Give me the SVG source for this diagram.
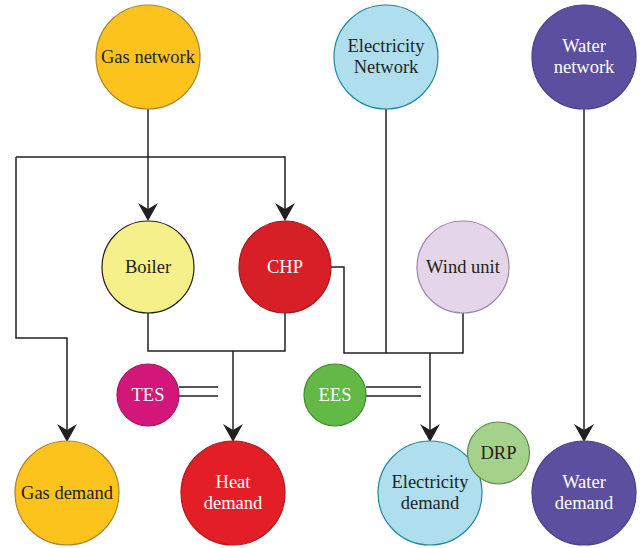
<svg xmlns="http://www.w3.org/2000/svg" width="641" height="548" viewBox="0 0 641 548">
<defs>
<style>
text{font-family:"Liberation Serif","DejaVu Serif",serif;font-size:18.5px;text-anchor:middle;fill:#231F20}
.w{fill:#ffffff}
.c{stroke-width:1.2}
.ln{fill:none;stroke:#231F20;stroke-width:1.5}
</style>
</defs>
<rect width="641" height="548" fill="#ffffff"/>
<g id="connectors" class="ln">
<path d="M148,109 V219"/>
<path d="M16,157 H285 V219"/>
<path d="M16,157 V338 H67 V440"/>
<path d="M148,313 V351 H285 V313"/>
<path d="M233,351 V440"/>
<path d="M331,267 H344 V353 H463 V313"/>
<path d="M386,109 V353"/>
<path d="M430,353 V440"/>
<path d="M584,109 V440"/>
<path d="M179,387 H218 M179,396 H218"/>
<path d="M366,387 H421 M366,396 H421"/>
</g>
<g id="arrowheads" fill="#231F20">
<path d="M148,221 L138,203 L148,209 L158,203 Z"/>
<path d="M285,221 L275,203 L285,209 L295,203 Z"/>
<path d="M67,442 L57,424 L67,430 L77,424 Z"/>
<path d="M233,442 L223,424 L233,430 L243,424 Z"/>
<path d="M430,442 L420,424 L430,430 L440,424 Z"/>
<path d="M584,442 L574,424 L584,430 L594,424 Z"/>
</g>
<g id="gas-network"><circle class="c" cx="148" cy="57" r="52" fill="#FCC31D" stroke="#A98532"/><text x="148" y="63">Gas network</text></g>
<g id="electricity-network"><circle class="c" cx="386" cy="57" r="52" fill="#AFDFEF" stroke="#1D8A9B"/><text x="386" y="52">Electricity</text><text x="386" y="73">Network</text></g>
<g id="water-network"><circle class="c" cx="584" cy="57" r="52" fill="#5C4F9F" stroke="#4A3F88"/><text class="w" x="584" y="52">Water</text><text class="w" x="584" y="73">network</text></g>
<g id="boiler"><circle class="c" cx="148" cy="267" r="46" fill="#F5F08A" stroke="#231F20"/><text x="148" y="273">Boiler</text></g>
<g id="chp"><circle class="c" cx="285" cy="267" r="46" fill="#D71F27" stroke="#A3181E"/><text class="w" x="285" y="273">CHP</text></g>
<g id="wind-unit"><circle class="c" cx="463" cy="267" r="46" fill="#E4D5E9" stroke="#9C86AE"/><text x="463" y="273">Wind unit</text></g>
<g id="tes"><circle class="c" cx="148" cy="395" r="31" fill="#D31679" stroke="#B0135F"/><text class="w" x="148" y="401">TES</text></g>
<g id="ees"><circle class="c" cx="335" cy="395" r="31" fill="#62B946" stroke="#3E8A2D"/><text class="w" x="335" y="401">EES</text></g>
<g id="gas-demand"><circle class="c" cx="67" cy="493" r="52" fill="#FCC31D" stroke="#A98532"/><text x="67" y="499">Gas demand</text></g>
<g id="heat-demand"><circle class="c" cx="233" cy="493" r="52" fill="#E31E26" stroke="#B3181E"/><text class="w" x="233" y="488">Heat</text><text class="w" x="233" y="509">demand</text></g>
<g id="electricity-demand"><circle class="c" cx="430" cy="493" r="52" fill="#AFDFEF" stroke="#1D8A9B"/><text x="430" y="488">Electricity</text><text x="430" y="509">demand</text></g>
<g id="drp"><circle class="c" cx="498.5" cy="453" r="31" fill="#A4D28B" stroke="#5E8A4E"/><text x="498.5" y="459">DRP</text></g>
<g id="water-demand"><circle class="c" cx="584" cy="493" r="52" fill="#5C4F9F" stroke="#4A3F88"/><text class="w" x="584" y="488">Water</text><text class="w" x="584" y="509">demand</text></g>
</svg>
